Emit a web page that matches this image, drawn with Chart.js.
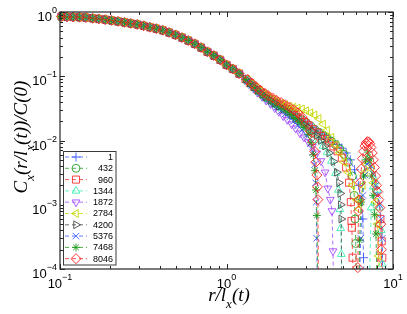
<!DOCTYPE html>
<html>
<head>
<meta charset="utf-8">
<script src="https://cdn.jsdelivr.net/npm/chart.js@4.4.1/dist/chart.umd.min.js"></script>
<style>
  html, body { margin: 0; padding: 0; background: #fff; }
  #wrap { width: 407px; height: 314px; }
</style>
</head>
<body>
<div id="wrap"><canvas id="chart" width="407" height="314"></canvas></div>
<script>
// series labels (times) and their look
const seriesNames = ['1', '432', '960', '1344', '1872', '2784', '4200', '5376', '7468', '8046'];
const seriesColors = ['#3d5cff', '#2aa02a', '#ff3030', '#3cf0b0', '#a24cff', '#c4d800', '#4a4a4a', '#3d5cff', '#1f9a1f', '#ff2020'];
const seriesMarkers = ['cross', 'circle', 'rect', 'triangle', 'triangle', 'triangle', 'triangle', 'crossRot', 'star', 'rectRot'];
const seriesRotation = [0, 0, 0, 0, 180, 270, 90, 0, 0, 0];
const seriesRadius = [4.5, 4, 5, 4.5, 4.5, 4.5, 4.5, 4.5, 4, 5];

// tick labels (powers of ten)
const xTickExp = [-1, 0, 1];
const yTickExp = [0, -1, -2, -3, -4];

// common collapse part, r/l_x < 1.2
const xBody = [0.102, 0.110, 0.120, 0.131, 0.143, 0.157, 0.171, 0.187, 0.204, 0.223, 0.244, 0.266, 0.291, 0.318, 0.347,
  0.379, 0.414, 0.452, 0.494, 0.540, 0.589, 0.644, 0.703, 0.768, 0.839, 0.916, 1.00, 1.09, 1.19];
const yBody = [0.85, 0.84, 0.835, 0.83, 0.82, 0.80, 0.78, 0.76, 0.74, 0.715, 0.69, 0.665, 0.64, 0.61, 0.58,
  0.55, 0.52, 0.48, 0.44, 0.40, 0.36, 0.32, 0.28, 0.24, 0.21, 0.18, 0.15, 0.13, 0.11];

// tails [x, y]; y = 1e-4 means the curve falls through the bottom (sign change), null = negative part
const tail1 = [[1.30, 0.090], [1.38, 0.078], [1.46, 0.068], [1.54, 0.060], [1.64, 0.053], [1.73, 0.048], [1.84, 0.043],
  [1.95, 0.039], [2.06, 0.036], [2.19, 0.033], [2.32, 0.030], [2.46, 0.027], [2.60, 0.025], [2.76, 0.022], [2.92, 0.020],
  [3.10, 0.018], [3.28, 0.016], [3.48, 0.0145], [3.69, 0.013], [3.91, 0.012], [4.14, 0.011], [4.39, 0.0098], [4.65, 0.0087],
  [4.93, 0.0076], [5.23, 0.0064], [5.54, 0.005], [5.87, 0.0035], [6.22, 0.002], [6.40, 0.0012], [6.59, 0.0006],
  [6.65, 0.00015], [6.67, 1e-4]];
const tail432 = [[1.34, 0.086], [1.42, 0.075], [1.50, 0.066], [1.59, 0.058], [1.69, 0.051], [1.78, 0.046], [1.89, 0.042],
  [2.00, 0.038], [2.13, 0.035], [2.25, 0.032], [2.39, 0.029], [2.53, 0.026], [2.68, 0.023], [2.84, 0.021], [3.01, 0.019],
  [3.19, 0.017], [3.38, 0.015], [3.58, 0.0135], [3.80, 0.012], [4.02, 0.011], [4.27, 0.0098], [4.52, 0.0086], [4.79, 0.0074],
  [5.08, 0.0061], [5.38, 0.0046], [5.70, 0.0028], [5.85, 0.0014], [5.92, 0.0006], [5.97, 0.00025], [6.00, 1e-4]];
const tail960 = [[1.30, 0.091], [1.38, 0.079], [1.46, 0.069], [1.54, 0.061], [1.64, 0.054], [1.73, 0.049], [1.84, 0.044],
  [1.95, 0.040], [2.06, 0.037], [2.19, 0.034], [2.32, 0.031], [2.46, 0.028], [2.60, 0.025], [2.76, 0.022], [2.92, 0.0195],
  [3.10, 0.0172], [3.28, 0.015], [3.48, 0.0133], [3.69, 0.0118], [3.91, 0.0105], [4.14, 0.0093], [4.39, 0.0081], [4.65, 0.0068],
  [4.93, 0.0054], [5.23, 0.0038], [5.45, 0.0022], [5.58, 0.0011], [5.63, 0.00056], [5.66, 0.00044], [5.72, 0.00015],
  [5.75, 1e-4], [7.0, null],
  [8.05, 1e-4], [8.20, 0.0004], [8.40, 0.0006], [8.55, 0.00027], [8.62, 0.00015], [8.65, 1e-4]];
const tail1344 = [[1.34, 0.085], [1.42, 0.074], [1.50, 0.064], [1.59, 0.056], [1.69, 0.049], [1.78, 0.044], [1.89, 0.039],
  [2.00, 0.035], [2.13, 0.032], [2.25, 0.029], [2.39, 0.026], [2.53, 0.023], [2.68, 0.020], [2.84, 0.018], [3.01, 0.016],
  [3.19, 0.014], [3.38, 0.012], [3.58, 0.010], [3.80, 0.0082], [4.02, 0.0065], [4.27, 0.0048], [4.52, 0.0031], [4.70, 0.0017],
  [4.80, 0.00085], [4.85, 0.00043], [4.90, 0.00017], [4.93, 1e-4], [6.0, null],
  [7.25, 1e-4], [7.40, 0.0009], [7.62, 0.0019], [7.85, 0.0023], [8.07, 0.0017], [8.31, 0.0009], [8.50, 0.0004],
  [8.62, 0.00012], [8.66, 1e-4]];
const tail1872 = [[1.30, 0.088], [1.38, 0.076], [1.46, 0.065], [1.54, 0.056], [1.64, 0.048], [1.73, 0.042], [1.84, 0.037],
  [1.95, 0.032], [2.06, 0.028], [2.19, 0.024], [2.32, 0.021], [2.46, 0.018], [2.60, 0.0155], [2.76, 0.013], [2.92, 0.0112],
  [3.10, 0.0095], [3.28, 0.008], [3.48, 0.0063], [3.69, 0.0048], [3.91, 0.0032], [4.06, 0.0018], [4.20, 0.0012],
  [4.30, 0.0008], [4.36, 0.00019], [4.38, 1e-4]];
const tail2784 = [[1.34, 0.088], [1.42, 0.077], [1.50, 0.068], [1.59, 0.060], [1.69, 0.053], [1.78, 0.048], [1.89, 0.044],
  [2.00, 0.041], [2.13, 0.038], [2.25, 0.036], [2.39, 0.034], [2.53, 0.033], [2.68, 0.032], [2.84, 0.031], [3.01, 0.029],
  [3.19, 0.027], [3.38, 0.025], [3.58, 0.022], [3.80, 0.018], [4.02, 0.0145], [4.27, 0.0112], [4.52, 0.0086], [4.79, 0.0064],
  [5.08, 0.0046], [5.38, 0.0032], [5.70, 0.002], [6.04, 0.0012], [6.25, 0.00085], [6.40, 0.0011], [6.59, 0.002],
  [6.78, 0.0032], [6.99, 0.0042], [7.19, 0.0045], [7.40, 0.0036], [7.62, 0.0022], [7.85, 0.0011], [8.07, 0.0005],
  [8.20, 0.00016], [8.24, 1e-4]];
const tail4200 = [[1.30, 0.090], [1.38, 0.078], [1.46, 0.068], [1.54, 0.060], [1.64, 0.052], [1.73, 0.047], [1.84, 0.042],
  [1.95, 0.038], [2.06, 0.034], [2.19, 0.031], [2.32, 0.028], [2.46, 0.025], [2.60, 0.022], [2.76, 0.020], [2.92, 0.018],
  [3.10, 0.016], [3.28, 0.014], [3.48, 0.012], [3.69, 0.010], [3.91, 0.0082], [4.14, 0.0064], [4.39, 0.0047], [4.60, 0.0032],
  [4.74, 0.0022], [4.82, 0.0015], [4.86, 0.001], [4.89, 0.0006], [4.91, 1e-4]];
const tail5376 = [[1.34, 0.083], [1.42, 0.072], [1.50, 0.062], [1.59, 0.054], [1.69, 0.047], [1.78, 0.042], [1.89, 0.037],
  [2.00, 0.033], [2.13, 0.029], [2.25, 0.026], [2.39, 0.023], [2.53, 0.020], [2.68, 0.017], [2.84, 0.0145], [3.01, 0.012],
  [3.19, 0.009], [3.30, 0.0065], [3.38, 0.0042], [3.43, 0.0022], [3.46, 0.0011], [3.48, 0.0003], [3.50, 1e-4], [5.0, null],
  [6.32, 1e-4], [6.40, 0.0003], [6.59, 0.0014], [6.78, 0.0029], [6.99, 0.0043], [7.19, 0.0047], [7.40, 0.004], [7.62, 0.003],
  [7.85, 0.002], [8.07, 0.0014], [8.31, 0.001], [8.50, 0.0006], [8.62, 0.0003], [8.66, 1e-4]];
const tail7468 = [[1.30, 0.089], [1.38, 0.077], [1.46, 0.067], [1.54, 0.059], [1.64, 0.051], [1.73, 0.046], [1.84, 0.041],
  [1.95, 0.037], [2.06, 0.034], [2.19, 0.031], [2.32, 0.028], [2.46, 0.025], [2.60, 0.022], [2.76, 0.019], [2.92, 0.016],
  [3.10, 0.0125], [3.22, 0.0092], [3.32, 0.006], [3.40, 0.0034], [3.45, 0.0017], [3.49, 0.00068], [3.52, 1e-4], [5.0, null],
  [6.27, 1e-4], [6.30, 0.00028], [6.45, 0.0011], [6.65, 0.0028], [6.85, 0.005], [7.06, 0.0066], [7.25, 0.0052],
  [7.45, 0.0028], [7.60, 0.0014], [7.75, 0.0007], [7.90, 0.00035], [7.98, 1e-4]];
const tail8046 = [[1.34, 0.089], [1.42, 0.078], [1.50, 0.069], [1.59, 0.061], [1.69, 0.055], [1.78, 0.050], [1.89, 0.046],
  [2.00, 0.042], [2.13, 0.039], [2.25, 0.036], [2.39, 0.033], [2.53, 0.030], [2.68, 0.027], [2.84, 0.023], [3.01, 0.019],
  [3.19, 0.014], [3.30, 0.0098], [3.38, 0.0068], [3.44, 0.0046], [3.49, 0.0029], [3.52, 0.0019], [3.54, 0.0012],
  [3.56, 1e-4], [5.0, null],
  [6.12, 1e-4], [6.15, 0.000105], [6.20, 0.0008], [6.26, 0.0012], [6.35, 0.0022], [6.45, 0.0036], [6.55, 0.0052],
  [6.66, 0.0068], [6.78, 0.0082], [6.90, 0.0091], [7.02, 0.0096], [7.14, 0.0095], [7.26, 0.0089], [7.38, 0.0078],
  [7.50, 0.0064], [7.62, 0.005], [7.74, 0.0038], [7.86, 0.0028], [7.98, 0.002], [8.10, 0.0016], [8.22, 0.0012],
  [8.34, 0.0009], [8.45, 0.0005], [8.52, 0.0002], [8.55, 1e-4]];

const tails = [tail1, tail432, tail960, tail1344, tail1872, tail2784, tail4200, tail5376, tail7468, tail8046];

const FLOOR = 1e-4;
const sans = '"Liberation Sans", Arial, sans-serif';
const serif = '"Liberation Serif", "Times New Roman", serif';

const datasets = seriesNames.map((name, i) => {
  const pts = xBody.map((x, j) => ({ x: x, y: yBody[j] }))
    .concat(tails[i].map(p => ({ x: p[0], y: p[1] })));
  return {
    label: name,
    data: pts,
    order: seriesNames.length - 1 - i,
    borderColor: seriesColors[i],
    backgroundColor: 'rgba(0,0,0,0)',
    borderWidth: 0.8,
    borderDash: [4, 3],
    pointStyle: seriesMarkers[i],
    rotation: seriesRotation[i],
    pointBorderColor: seriesColors[i],
    pointBackgroundColor: 'rgba(0,0,0,0)',
    pointBorderWidth: 0.9,
    pointRadius: (c) => (c.raw && c.raw.y != null && c.raw.y <= FLOOR) ? 0 : seriesRadius[i],
    spanGaps: false,
    tension: 0,
    clip: 7
  };
});

// power-of-ten label with a raised exponent
function drawPow(ctx, e, x, yBase, ySup, align) {
  const sup = e < 0 ? '\u2212' + (-e) : String(e);
  ctx.font = '13px ' + sans;
  const wb = ctx.measureText('10').width;
  ctx.font = '9px ' + sans;
  const ws = ctx.measureText(sup).width;
  const left = align === 'right' ? x - wb - ws : x - (wb + ws) / 2;
  ctx.textAlign = 'left';
  ctx.textBaseline = 'alphabetic';
  ctx.font = '13px ' + sans;
  ctx.fillText('10', left, yBase);
  ctx.font = '9px ' + sans;
  ctx.fillText(sup, left + wb, ySup);
}

// italic label with subscripts, parts = [[text, isSub], ...]
function drawSubText(ctx, parts, cx, cy, rot) {
  const big = 'italic 19px ' + serif, small = 'italic 13px ' + serif;
  let total = 0;
  parts.forEach(p => { ctx.font = p[1] ? small : big; total += ctx.measureText(p[0]).width; });
  ctx.save();
  ctx.translate(cx, cy);
  ctx.rotate(rot);
  ctx.textAlign = 'left';
  ctx.textBaseline = 'alphabetic';
  let x = -total / 2;
  parts.forEach(p => {
    ctx.font = p[1] ? small : big;
    ctx.fillText(p[0], x, p[1] ? 6.5 : 0);
    x += ctx.measureText(p[0]).width;
  });
  ctx.restore();
}

const decorPlugin = {
  id: 'decor',
  afterDraw(chart) {
    const ctx = chart.ctx;
    const a = chart.chartArea;
    const xs = chart.scales.x, ys = chart.scales.y;
    ctx.save();
    ctx.fillStyle = '#000';
    ctx.strokeStyle = '#262626';
    ctx.lineWidth = 1;

    // inward ticks on all four sides
    ctx.beginPath();
    [0.1, 1].forEach(d => {
      for (let m = 1; m <= 10; m++) {
        const px = Math.round(xs.getPixelForValue(m * d)) + 0.5;
        const len = (m === 1 || m === 10) ? 5 : 3;
        ctx.moveTo(px, a.bottom); ctx.lineTo(px, a.bottom - len);
        ctx.moveTo(px, a.top); ctx.lineTo(px, a.top + len);
      }
    });
    [1e-4, 1e-3, 1e-2, 1e-1].forEach(d => {
      for (let m = 1; m <= 10; m++) {
        const py = Math.round(ys.getPixelForValue(m * d)) + 0.5;
        const len = (m === 1 || m === 10) ? 5 : 3;
        ctx.moveTo(a.left, py); ctx.lineTo(a.left + len, py);
        ctx.moveTo(a.right, py); ctx.lineTo(a.right - len, py);
      }
    });
    ctx.stroke();

    // box
    ctx.lineWidth = 1.2;
    ctx.strokeRect(a.left, a.top, a.right - a.left, a.bottom - a.top);

    // tick labels
    xTickExp.forEach(e => drawPow(ctx, e, xs.getPixelForValue(Math.pow(10, e)), a.bottom + 19, a.bottom + 11, 'center'));
    yTickExp.forEach(e => {
      const py = ys.getPixelForValue(Math.pow(10, e));
      drawPow(ctx, e, a.left - 3, py + 9, py + 1, 'right');
    });

    // axis titles
    drawSubText(ctx, [['r/l', false], ['x', true], ['(t)', false]], 229, 301, 0);
    drawSubText(ctx, [['C', false], ['x', true], ['(r/l', false], ['x', true], ['(t))/C(0)', false]], 27, 137, -Math.PI / 2);

    // legend box
    const lx = 63.5, ly = 151.5, lw = 52.5, lh = 113.5;
    ctx.fillStyle = '#fff';
    ctx.fillRect(lx, ly, lw, lh);
    ctx.strokeStyle = '#3a3a3a';
    ctx.lineWidth = 1;
    ctx.strokeRect(lx, ly, lw, lh);
    seriesNames.forEach((name, i) => {
      const y = 157 + i * 11.3;
      ctx.strokeStyle = seriesColors[i];
      ctx.lineWidth = 0.8;
      ctx.setLineDash([4, 3]);
      ctx.beginPath();
      ctx.moveTo(65, y); ctx.lineTo(87, y);
      ctx.stroke();
      ctx.setLineDash([]);
      ctx.fillStyle = 'rgba(0,0,0,0)';
      ctx.lineWidth = 0.9;
      Chart.helpers.drawPoint(ctx, {
        pointStyle: seriesMarkers[i],
        rotation: seriesRotation[i],
        radius: seriesRadius[i],
        borderWidth: 0.9
      }, 76, y);
      ctx.fillStyle = '#000';
      ctx.font = '9px ' + sans;
      ctx.textAlign = 'right';
      ctx.textBaseline = 'middle';
      ctx.fillText(name, 113, y + 0.5);
    });
    ctx.restore();
  }
};

new Chart(document.getElementById('chart'), {
  type: 'line',
  data: { datasets: datasets },
  options: {
    responsive: false,
    animation: false,
    devicePixelRatio: 1,
    parsing: true,
    layout: { padding: { left: 60, top: 12, right: 14, bottom: 45 } },
    scales: {
      x: { type: 'logarithmic', min: 0.1, max: 10, display: false },
      y: { type: 'logarithmic', min: 1e-4, max: 1, display: false }
    },
    plugins: {
      legend: { display: false },
      tooltip: { enabled: false }
    }
  },
  plugins: [decorPlugin]
});
</script>
</body>
</html>
